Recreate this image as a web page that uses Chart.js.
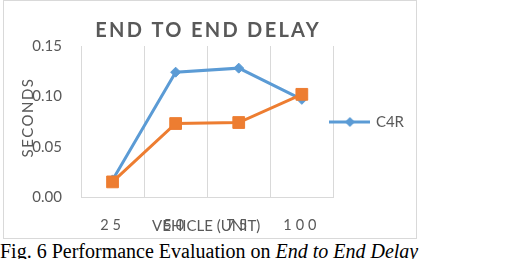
<!DOCTYPE html>
<html>
<head>
<meta charset="utf-8">
<script src="https://cdn.jsdelivr.net/npm/chart.js@4.4.0/dist/chart.umd.min.js"></script>
<style>
  body { margin: 0; width: 511px; height: 259px; overflow: hidden; background: #fff; position: relative; }
  #frame { position: absolute; left: 3px; top: 0; width: 412px; height: 237px; border: 1px solid #d9d9d9; }
  #caption { position: absolute; left: 0; top: 241px; font-family: "Liberation Serif", serif; font-size: 20px; line-height: 20px; white-space: nowrap; color: #000; }
</style>
</head>
<body>
<div id="frame"><canvas id="chart-delay" width="412" height="237"></canvas></div>
<div id="caption">Fig. 6 Performance Evaluation on <i>End to End Delay</i></div>
<script>
//************************* data **********************************
const categories = ['25', '50', '75', '100'];
const c4rDelay = [0.017, 0.124, 0.128, 0.097];
const secondDelay = [0.015, 0.073, 0.074, 0.102];
const yTicks = [0, 0.05, 0.10, 0.15];
const chartTitle = 'END TO END DELAY';
const xTitle = 'VEHICLE (UNIT)';
const yTitle = 'SECONDS';

const blue = '#5B9BD5';
const orange = '#ED7D31';
const textGray = '#595959';
const gridGray = '#d9d9d9';

//legend marker: short line with a diamond, like the office chart
const legendMark = document.createElement('canvas');
legendMark.width = 41;
legendMark.height = 12;
const lm = legendMark.getContext('2d');
lm.strokeStyle = blue;
lm.lineWidth = 3;
lm.beginPath();
lm.moveTo(0, 6);
lm.lineTo(41, 6);
lm.stroke();
lm.fillStyle = blue;
lm.beginPath();
lm.moveTo(20.5, 1);
lm.lineTo(25.5, 6);
lm.lineTo(20.5, 11);
lm.lineTo(15.5, 6);
lm.closePath();
lm.fill();

//titles drawn with letter spacing, the x ticks too
const spacedText = {
  id: 'spacedText',
  afterLayout(chart) {
    //legend sits a little over the plot, and level with its middle
    const lg = chart.legend;
    lg.left -= 12;
    lg.right -= 12;
    lg.top -= 20;
    lg.bottom -= 20;

    const xs = chart.scales.x;
    if (!xs._spaced) {
      const original = xs.drawLabels.bind(xs);
      xs.drawLabels = (area) => {
        chart.ctx.save();
        chart.ctx.letterSpacing = '4px';
        original(area);
        chart.ctx.restore();
      };
      xs._spaced = true;
    }
  },
  afterDraw(chart) {
    const ctx = chart.ctx;
    const area = chart.chartArea;
    ctx.save();
    ctx.fillStyle = textGray;
    ctx.textAlign = 'center';
    ctx.textBaseline = 'middle';

    ctx.font = 'bold 20px Lato';
    ctx.letterSpacing = '2.3px';
    ctx.fillText(chartTitle, (area.left + area.right) / 2 + 1, 30);

    ctx.font = '15px Lato';
    ctx.letterSpacing = '0px';
    ctx.fillText(xTitle, (area.left + area.right) / 2 - 1, 225);

    ctx.letterSpacing = '1.5px';
    ctx.translate(24, (area.top + area.bottom) / 2 - 4);
    ctx.rotate(-Math.PI / 2);
    ctx.fillText(yTitle, 0, 0);
    ctx.restore();
  }
};

new Chart(document.getElementById('chart-delay'), {
  type: 'line',
  data: {
    labels: categories,
    datasets: [{
      label: 'C4R',
      data: c4rDelay,
      borderColor: blue,
      backgroundColor: blue,
      borderWidth: 3,
      pointStyle: 'rectRot',
      pointRadius: 5,
      pointBorderWidth: 1,
      order: 2
    }, {
      label: 'Series 2',
      data: secondDelay,
      borderColor: orange,
      backgroundColor: orange,
      borderWidth: 3,
      pointStyle: 'rect',
      pointRadius: 8.3,
      pointBorderWidth: 1,
      order: 1
    }]
  },
  options: {
    responsive: false,
    animation: false,
    layout: { padding: { top: 45, left: 0, right: -10, bottom: 0 } },
    plugins: {
      title: { display: false },
      tooltip: { enabled: false },
      legend: {
        position: 'right',
        labels: {
          usePointStyle: true,
          pointStyleWidth: 37,
          color: textGray,
          font: { family: 'Lato', size: 15 },
          filter: (item) => item.datasetIndex === 0,
          generateLabels: (chart) => Chart.defaults.plugins.legend.labels.generateLabels(chart).map(item => {
            item.pointStyle = legendMark;
            return item;
          })
        }
      }
    },
    scales: {
      x: {
        offset: true,
        grid: { offset: true, color: gridGray, drawTicks: false },
        border: { color: gridGray },
        ticks: { color: textGray, font: { family: 'Lato', size: 14.5 }, padding: 20 },
        afterFit: (scale) => { scale.height = 41; }
      },
      y: {
        min: 0,
        max: 0.15,
        afterBuildTicks: (scale) => { scale.ticks = yTicks.map(v => ({ value: v })); },
        grid: { display: false, drawTicks: false },
        border: { display: false },
        ticks: {
          color: textGray,
          font: { family: 'Lato', size: 15 },
          padding: 19,
          callback: (value) => Number(value).toFixed(2)
        },
        afterFit: (scale) => { scale.width = 77; }
      }
    }
  },
  plugins: [spacedText]
});
</script>
</body>
</html>
